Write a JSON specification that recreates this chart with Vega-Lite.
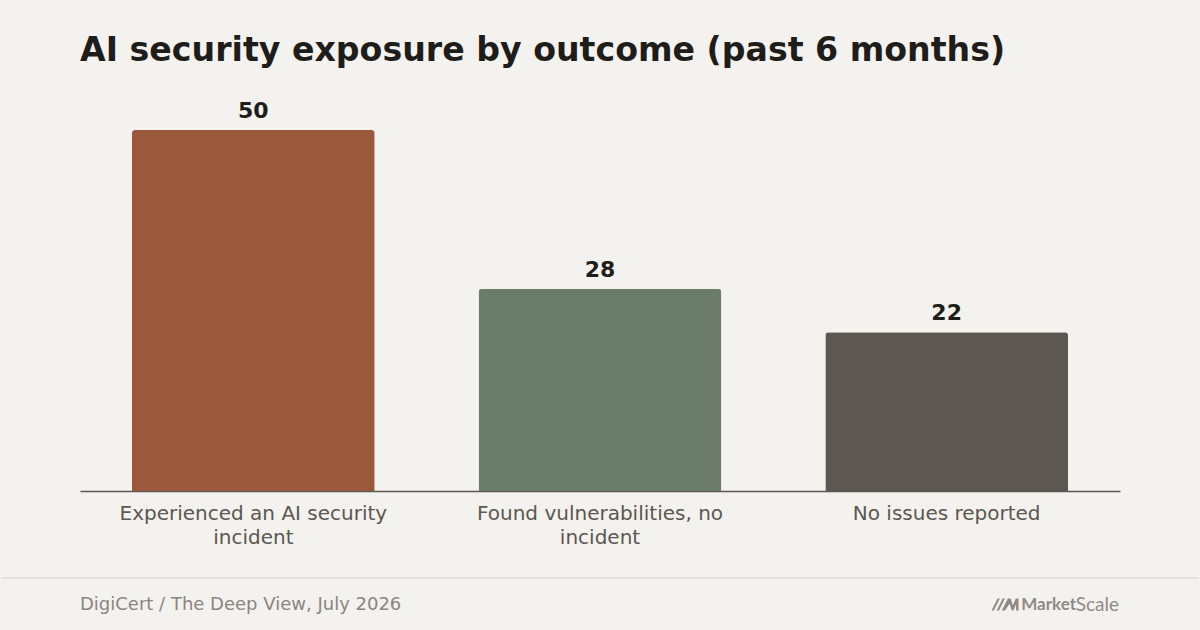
{
  "$schema": "https://vega.github.io/schema/vega-lite/v6.json",
  "description": "AI security exposure by outcome, share of respondents",
  "background": "#F4F2EE",
  "padding": {"top": 33, "left": 0, "right": 0, "bottom": 0},
  "config": {
    "font": "DejaVu Sans",
    "view": {"stroke": null}
  },
  "title": {
    "text": "AI security exposure by outcome (past 6 months)",
    "anchor": "start",
    "dx": 80,
    "fontSize": 33.2,
    "fontWeight": "bold",
    "color": "#1F1D1A",
    "offset": 26
  },
  "spacing": 30,
  "vconcat": [
    {
      "width": 1040,
      "height": 397,
      "data": {
        "values": [
          {"outcome": "Experienced an AI security incident", "share": 50},
          {"outcome": "Found vulnerabilities, no incident", "share": 28},
          {"outcome": "No issues reported", "share": 22}
        ]
      },
      "encoding": {
        "x": {
          "field": "outcome",
          "type": "nominal",
          "sort": null,
          "scale": {"paddingInner": 0.3, "paddingOuter": 0.15},
          "axis": {
            "title": null,
            "labelAngle": 0,
            "labelFontSize": 20,
            "labelColor": "#5C5750",
            "labelLineHeight": 24,
            "labelPadding": 12,
            "labelLimit": 400,
            "labelExpr": "datum.label == 'Experienced an AI security incident' ? ['Experienced an AI security', 'incident'] : datum.label == 'Found vulnerabilities, no incident' ? ['Found vulnerabilities, no', 'incident'] : datum.label",
            "ticks": false,
            "domainColor": "#5C5750",
            "domainWidth": 1.5
          }
        },
        "y": {
          "field": "share",
          "type": "quantitative",
          "scale": {"domain": [0, 55], "nice": false},
          "axis": {
            "title": null,
            "labels": false,
            "ticks": false,
            "domain": false,
            "grid": false,
            "minExtent": 80,
            "maxExtent": 80
          }
        }
      },
      "layer": [
        {
          "mark": {"type": "bar", "cornerRadiusTopLeft": 3, "cornerRadiusTopRight": 3},
          "encoding": {
            "color": {
              "field": "outcome",
              "type": "nominal",
              "sort": null,
              "scale": {"range": ["#9A593D", "#6B7C6A", "#5C5750"]},
              "legend": null
            }
          }
        },
        {
          "mark": {
            "type": "text",
            "baseline": "alphabetic",
            "dy": -12,
            "fontSize": 22,
            "fontWeight": "bold",
            "color": "#1F1D1A"
          },
          "encoding": {"text": {"field": "share", "type": "quantitative"}}
        }
      ]
    },
    {
      "width": 1040,
      "height": 53,
      "data": {
        "values": [
          {"source": "DigiCert / The Deep View, July 2026", "brand": "Market", "brand2": "Scale"}
        ]
      },
      "encoding": {
        "y": {
          "datum": 0.5,
          "type": "quantitative",
          "scale": {"domain": [0, 1]},
          "axis": {"title": null, "labels": false, "ticks": false, "domain": false, "grid": false, "minExtent": 80, "maxExtent": 80}
        }
      },
      "layer": [
        {
          "mark": {"type": "rule", "color": "#E6E3DE", "strokeWidth": 2, "clip": false},
          "encoding": {
            "x": {"datum": -0.0759, "type": "quantitative", "scale": {"domain": [0, 1]}, "axis": null},
            "x2": {"datum": 1.0759},
            "y": {"datum": 1, "type": "quantitative"}
          }
        },
        {
          "mark": {"type": "text", "align": "left", "baseline": "middle", "fontSize": 18, "color": "#8A857F"},
          "encoding": {
            "x": {"datum": 0, "type": "quantitative"},
            "text": {"field": "source"}
          }
        },
        {
          "mark": {"type": "text", "align": "right", "baseline": "middle", "dx": -1, "font": "Lato", "fontSize": 19, "color": "#8F8A85"},
          "encoding": {
            "x": {"datum": 1, "type": "quantitative"},
            "text": {"field": "brand2"}
          }
        },
        {
          "mark": {"type": "text", "align": "right", "baseline": "middle", "dx": -44, "font": "Lato", "fontWeight": "bold", "fontSize": 17, "color": "#8F8A85"},
          "encoding": {
            "x": {"datum": 1, "type": "quantitative"},
            "text": {"field": "brand"}
          }
        },
        {
          "mark": {
            "type": "point",
            "filled": true,
            "color": "#8F8A85",
            "opacity": 1,
            "size": 729,
            "shape": "M-1,0.44 L-0.55,-0.44 L-0.38,-0.44 L-0.83,0.44 Z M-0.62,0.44 L-0.17,-0.44 L0,-0.44 L-0.45,0.44 Z M-0.24,0.44 L0.21,-0.44 L0.42,-0.44 L0.58,0.05 L0.8,-0.44 L1,-0.44 L1,0.44 L0.82,0.44 L0.82,-0.02 L0.62,0.44 L0.5,0.44 L0.34,-0.05 L0,0.44 Z"
          },
          "encoding": {
            "x": {"datum": 1, "type": "quantitative"},
            "xOffset": {"value": -115}
          }
        }
      ]
    }
  ]
}
